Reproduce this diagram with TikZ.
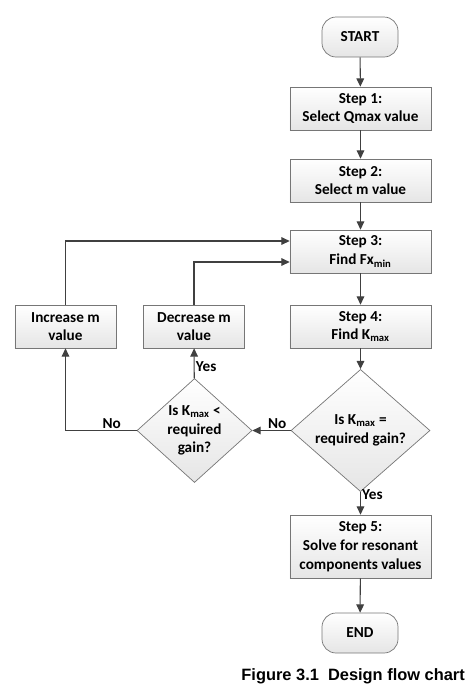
\documentclass[tikz,border=0pt]{standalone}
\usepackage{fontspec}
\setmainfont{Carlito}
\newfontfamily\capfont{Liberation Sans}
\usepackage{tikz}
\usetikzlibrary{arrows.meta,shapes.geometric}

\definecolor{boxline}{HTML}{767676}
\definecolor{flowline}{HTML}{404040}

\begin{document}
\begin{tikzpicture}[x=0.03cm, y=-0.03cm,
    font=\fontsize{13}{16}\selectfont\bfseries,
    stepbox/.style={draw=boxline, line width=0.6pt, top color=white, bottom color=black!10,
      minimum width=4.23cm, minimum height=1.29cm, align=center, inner sep=1pt},
    termbox/.style={stepbox, minimum width=2.28cm, minimum height=1.2cm, rounded corners=0.42cm},
    askbox/.style={draw=boxline, line width=0.6pt, top color=white, bottom color=black!10,
      diamond, align=center, inner sep=0pt},
    flow/.style={draw=flowline, line width=0.9pt, -{Triangle[length=7pt,width=6.5pt]}},
    lbl/.style={font=\fontsize{13}{14}\selectfont\bfseries, inner sep=1pt}]
    \useasboundingbox (0,0) rectangle (471,690);
    % main column
    \node[termbox] (start) at (360,37) {START};
    \node[stepbox] (s1) at (360.5,108.5) {Step 1:\\Select Qmax value};
    \node[stepbox] (s2) at (360.5,180.5) {Step 2:\\Select m value};
    \node[stepbox] (s3) at (360.5,251.5) {Step 3:\\Find Fx\textsubscript{min}};
    \node[stepbox] (s4) at (360.5,326.5) {Step 4:\\Find K\textsubscript{max}};
    \node[askbox, minimum width=4.17cm, minimum height=2.79cm] (eq) at (360.5,430.5) {Is K\textsubscript{max} =\\required gain?};
    \node[stepbox, minimum height=1.89cm] (s5) at (360.5,546.5) {Step 5:\\Solve for resonant\\components values};
    \node[termbox] (end) at (360,633) {END};
    % side loop
    \node[askbox, minimum width=3.45cm, minimum height=2.76cm] (lt) at (194.5,430.5) {Is K\textsubscript{max} <\\required\\gain?};
    \node[stepbox, minimum width=3.03cm] (inc) at (65.5,326.5) {Increase m\\value};
    \node[stepbox, minimum width=3.03cm] (dec) at (194,326.5) {Decrease m\\value};
    % connectors
    \draw[flow] (start) -- (s1);
    \draw[flow] (s1) -- (s2);
    \draw[flow] (s2) -- (s3);
    \draw[flow] (s3) -- (s4);
    \draw[flow] (s4) -- (eq);
    \draw[flow] (eq) -- node[lbl, pos=0.1, right] {Yes} (s5);
    \draw[flow] (s5) -- (end);
    \draw[flow] (eq) -- node[lbl, above, pos=0.35] {No} (lt);
    \draw[flow] (lt.west) -- node[lbl, above, pos=0.35] {No} (inc.south |- lt.west) -- (inc.south);
    \draw[flow] (lt) -- node[lbl, right, pos=0.4] {Yes} (dec);
    \draw[flow] (inc.north) |- ([yshift=3.15mm]s3.west);
    \draw[flow] (dec.north) |- ([yshift=-3.15mm]s3.west);
    % caption
    \node[anchor=base east, font=\capfont\fontsize{14}{16}\selectfont\bfseries, inner sep=0pt] (cap) at (465,680) {Figure 3.1\ \ Design flow chart};
  \end{tikzpicture}
\end{document}
